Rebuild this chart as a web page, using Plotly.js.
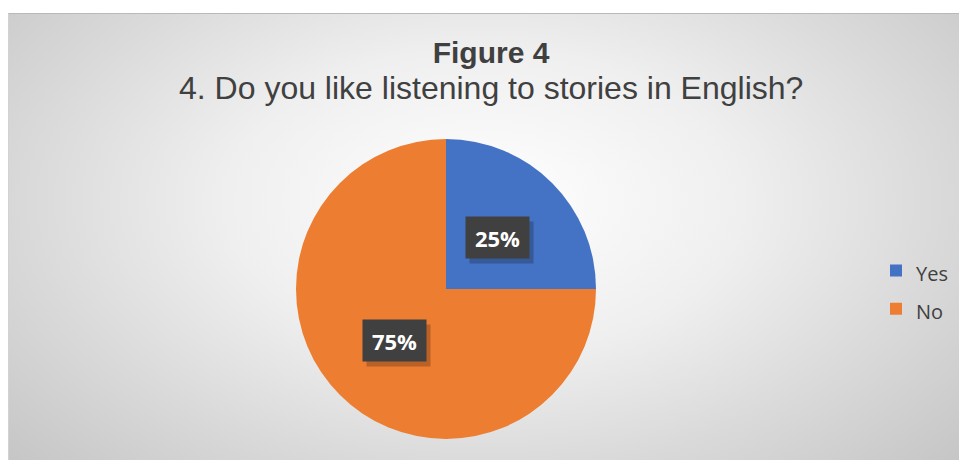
<!DOCTYPE html>
<html>
<head>
<meta charset="utf-8">
<script src="https://cdn.plot.ly/plotly-3.0.1.min.js"></script>
<style>
  html, body { margin: 0; padding: 0; background: #ffffff; }
  #wrap { position: relative; width: 959px; height: 460px; overflow: hidden; }
  #bg {
    position: absolute; left: 8px; top: 13px; width: 951px; height: 447px;
    box-sizing: border-box;
    border-top: 1px solid #b9b9b9; border-left: 1px solid #d2d2d2;
    background: radial-gradient(ellipse 68% 85% at 50% 42%, #ffffff 0%, #efefef 40%, #dadada 70%, #c6c6c6 100%);
  }
  #chart { position: absolute; left: 0; top: 0; width: 959px; height: 460px; }
</style>
</head>
<body>
<div id="wrap">
  <div id="bg"></div>
  <div id="chart"></div>
</div>
<script>
// ---- data ----
const titleText = 'Figure 4';
const subtitleText = '4. Do you like listening to stories in English?';
const labels = ['Yes', 'No'];
const values = [25, 75];
const colors = ['#4472C4', '#ED7D31'];

// ---- layout geometry ----
const W = 959, H = 460;
const cx = 446, cy = 289, R = 150;
const domX = [(cx - R) / W, (cx + R) / W];
const domY = [1 - (cy + R) / H, 1 - (cy - R) / H];

const total = values.reduce((a, b) => a + b, 0);
let cum = 0;
const labelAnns = [];
const shadowAnns = [];
values.forEach((v, i) => {
  const frac = (cum + v / 2) / total;
  cum += v;
  const ang = frac * 2 * Math.PI;
  const r = 0.49 * R;
  const px = cx + r * Math.sin(ang);
  const py = cy - r * Math.cos(ang);
  const pct = Math.round(v / total * 100) + '%';
  const common = {
    xref: 'paper', yref: 'paper', x: px / W, y: 1 - py / H,
    xanchor: 'center', yanchor: 'middle', showarrow: false,
    width: 63, height: 41, borderpad: 0
  };
  shadowAnns.push(Object.assign({}, common, {
    text: '&nbsp;', bgcolor: 'rgba(0,0,0,0.22)', xshift: 4, yshift: -5
  }));
  labelAnns.push(Object.assign({}, common, {
    text: '<b>' + pct + '</b>', bgcolor: '#404040',
    font: { family: 'Open Sans', size: 22, color: '#ffffff' }
  }));
});

const legendLabels = labels.map(l => '<span style="font-size:20px">' + l + '</span>');

const trace = {
  type: 'pie',
  labels: legendLabels,
  values: values,
  marker: { colors: colors, line: { width: 0 } },
  sort: false,
  direction: 'clockwise',
  rotation: 0,
  textinfo: 'none',
  hoverinfo: 'skip',
  domain: { x: domX, y: domY }
};

const layout = {
  width: W, height: H,
  margin: { l: 0, r: 0, t: 0, b: 0 },
  paper_bgcolor: 'rgba(0,0,0,0)',
  plot_bgcolor: 'rgba(0,0,0,0)',
  title: {
    text: '<b>' + titleText + '</b>',
    font: { family: 'Liberation Sans, Arial', size: 30, color: '#404040' },
    x: 491 / W, xanchor: 'center', xref: 'paper',
    y: 1 - 52 / H, yanchor: 'middle', yref: 'container'
  },
  showlegend: true,
  legend: {
    x: 876 / W, xanchor: 'left', y: 1 - 290 / H, yanchor: 'middle',
    font: { family: 'Open Sans', size: 27, color: '#404040' },
    bgcolor: 'rgba(0,0,0,0)'
  },
  annotations: [
    {
      xref: 'paper', yref: 'paper', x: 491 / W, y: 1 - 88 / H,
      xanchor: 'center', yanchor: 'middle', showarrow: false,
      text: subtitleText,
      font: { family: 'Liberation Sans, Arial', size: 32, color: '#404040' }
    }
  ].concat(shadowAnns, labelAnns)
};

Plotly.newPlot('chart', [trace], layout, { displayModeBar: false, staticPlot: true });
</script>
</body>
</html>
